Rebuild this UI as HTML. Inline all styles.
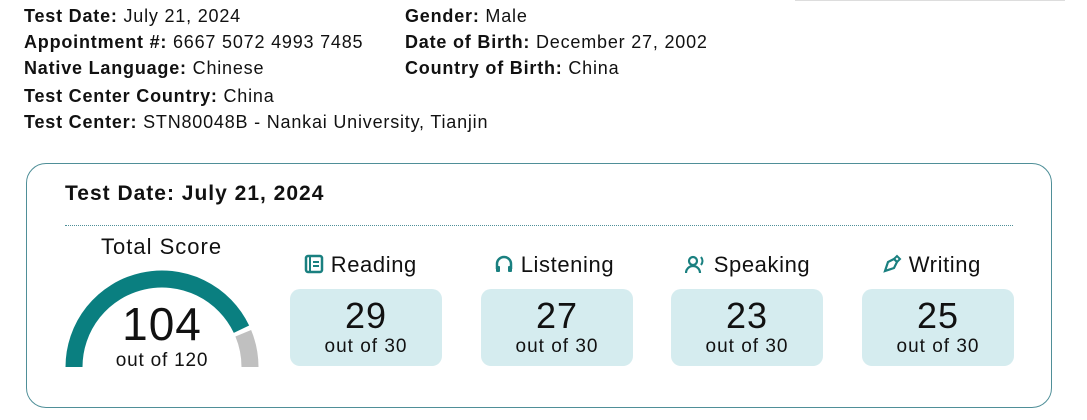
<!DOCTYPE html>
<html><head><meta charset="utf-8"><style>
body{margin:0;width:1087px;height:420px;background:#fff;font-family:"Liberation Sans",sans-serif;color:#111;position:relative;overflow:hidden}
.t{position:absolute;font-size:18px;letter-spacing:0.8px;white-space:nowrap}
.t b{font-weight:bold}
.card{position:absolute;left:26px;top:163px;width:1024px;height:243px;border:1.5px solid #4f8f98;border-radius:20px}
.hdr{position:absolute;left:65px;top:182px;font-size:21px;font-weight:bold;letter-spacing:1px}
.dot{position:absolute;left:65px;top:225px;width:948px;border-top:1.5px dotted #4f8f98}
.lab{position:absolute;font-size:22px;white-space:nowrap;letter-spacing:0.6px}
.box{position:absolute;top:289px;width:152px;height:77px;background:#d5ecef;border-radius:10px;text-align:center}
.box .n{font-size:36px;margin-top:7px;line-height:40px;letter-spacing:1px}
.box .o{font-size:19px;line-height:22px;letter-spacing:1px}
</style></head><body>
<div style="position:absolute;left:795px;top:0;width:270px;height:1px;background:#ddd"></div>
<div class="t" style="left:24px;top:6px"><b>Test Date:</b> July 21, 2024</div>
<div class="t" style="left:24px;top:32px"><b>Appointment #:</b> 6667 5072 4993 7485</div>
<div class="t" style="left:24px;top:58px"><b>Native Language:</b> Chinese</div>
<div class="t" style="left:24px;top:86px"><b>Test Center Country:</b> China</div>
<div class="t" style="left:24px;top:112px"><b>Test Center:</b> STN80048B - Nankai University, Tianjin</div>
<div class="t" style="left:405px;top:6px"><b>Gender:</b> Male</div>
<div class="t" style="left:405px;top:32px"><b>Date of Birth:</b> December 27, 2002</div>
<div class="t" style="left:405px;top:58px"><b>Country of Birth:</b> China</div>
<div class="card"></div>
<div class="hdr">Test Date: July 21, 2024</div>
<div class="dot"></div>
<div class="lab" style="left:101px;top:234px;letter-spacing:1px">Total Score</div>
<svg id="g" style="position:absolute;left:0;top:0" width="1087" height="420"></svg>
<div style="position:absolute;left:62px;top:298px;width:200px;text-align:center;font-size:46px;line-height:52px;letter-spacing:1px">104</div>
<div style="position:absolute;left:62px;top:350px;width:200px;text-align:center;font-size:19px;letter-spacing:0.8px">out of 120</div>

<div class="lab" style="left:304px;top:252px"><svg width="20" height="20" style="vertical-align:-2px"><rect x="2" y="2" width="16" height="16" rx="2" fill="none" stroke="#1a8080" stroke-width="2.5"/><line x1="6" y1="3" x2="6" y2="17" stroke="#1a8080" stroke-width="2"/><line x1="9" y1="8" x2="15" y2="8" stroke="#1a8080" stroke-width="2"/><line x1="9" y1="12" x2="15" y2="12" stroke="#1a8080" stroke-width="2"/></svg> Reading</div>
<div class="lab" style="left:494px;top:252px"><svg width="20" height="20" style="vertical-align:-2px"><path d="M3 15 V10 A7 7 0 0 1 17 10 V15" fill="none" stroke="#1a8080" stroke-width="2.5"/><rect x="2" y="12" width="4" height="6" rx="1" fill="#1a8080"/><rect x="14" y="12" width="4" height="6" rx="1" fill="#1a8080"/></svg> Listening</div>
<div class="lab" style="left:685px;top:252px"><svg width="22" height="20" style="vertical-align:-2px"><circle cx="8" cy="7" r="4" fill="none" stroke="#1a8080" stroke-width="2.2"/><path d="M1 19 A7 7 0 0 1 15 19" fill="none" stroke="#1a8080" stroke-width="2.2"/><path d="M16 3 Q19 7 16 11" fill="none" stroke="#1a8080" stroke-width="2"/></svg> Speaking</div>
<div class="lab" style="left:882px;top:252px"><svg width="20" height="20" style="vertical-align:-2px"><path d="M3 17 L6 8 L12 5 L15 8 L12 14 Z" fill="none" stroke="#1a8080" stroke-width="2.2"/><path d="M12 5 L15 2 L18 5 L15 8" fill="none" stroke="#1a8080" stroke-width="2"/></svg> Writing</div>

<div class="box" style="left:290px"><div class="n">29</div><div class="o">out of 30</div></div>
<div class="box" style="left:481px"><div class="n">27</div><div class="o">out of 30</div></div>
<div class="box" style="left:671px"><div class="n">23</div><div class="o">out of 30</div></div>
<div class="box" style="left:862px"><div class="n">25</div><div class="o">out of 30</div></div>
<script>
const totalValue=[104];
const totalMax=[120];
const svg=document.getElementById('g');
const cx=162,cy=367,R=88,W=17;
function pt(a){const r=Math.PI*(1-a);return [cx+R*Math.cos(r),cy-R*Math.sin(r)];}
function arc(a0,a1,col,name){
  const p0=pt(a0),p1=pt(a1);
  const p=document.createElementNS('http://www.w3.org/2000/svg','path');
  p.setAttribute('d',`M${p0[0]} ${p0[1]} A${R} ${R} 0 0 1 ${p1[0]} ${p1[1]}`);
  p.setAttribute('fill','none');p.setAttribute('stroke',col);p.setAttribute('stroke-width',W);
  
  
  svg.appendChild(p);
}
const f=totalValue[0]/totalMax[0];
arc(0,f-0.008,'#0a7f80','gauge-score-arc');
arc(f+0.008,1,'#c0c0c0','gauge-remaining-arc');
</script>
</body></html>
